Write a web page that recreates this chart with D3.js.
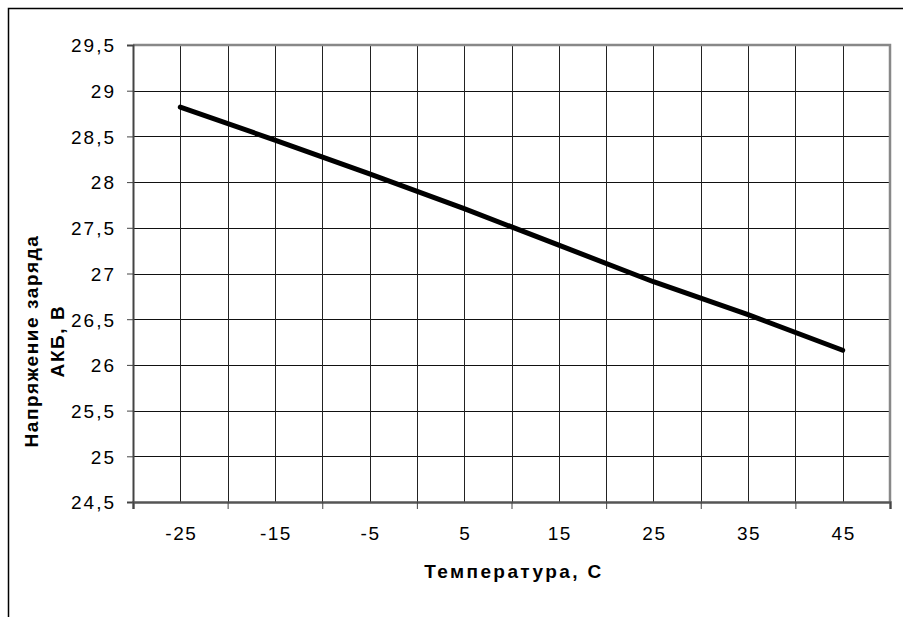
<!DOCTYPE html>
<html>
<head>
<meta charset="utf-8">
<script src="https://cdn.jsdelivr.net/npm/d3@7"></script>
<style>
  body { margin: 0; background: #fff; }
  text { font-family: "Liberation Sans", Arial, sans-serif; fill: #000; }
</style>
</head>
<body>
<div id="chart"></div>
<script>
"use strict";

// data
var temps = [-25, -15, -5, 5, 15, 25, 35, 45];
var voltage = [28.82, 28.46, 28.09, 27.71, 27.31, 26.91, 26.55, 26.16];
var yTicks = [24.5, 25, 25.5, 26, 26.5, 27, 27.5, 28, 28.5, 29, 29.5];
var xLabels = [-25, -15, -5, 5, 15, 25, 35, 45];
var xTickMarks = [-30, -20, -10, 0, 10, 20, 30, 40, 50];
var xGrid = d3.range(-30, 51, 5);

var w = 903;
var h = 617;
var plot = { left: 133, right: 890, top: 45, bottom: 502 };

var svg = d3.select("#chart")
    .append("svg")
    .attr("width", w)
    .attr("height", h);

//outer chart frame (cut off at right and bottom)
svg.append("rect")
    .attr("x", 8.5)
    .attr("y", 8.5)
    .attr("width", 1000)
    .attr("height", 1000)
    .attr("fill", "none")
    .attr("stroke", "#000")
    .attr("stroke-width", 1.5);

var x = d3.scaleLinear()
    .domain([-30, 50])
    .range([plot.left, plot.right]);

var y = d3.scaleLinear()
    .domain([24.5, 29.5])
    .range([plot.bottom, plot.top]);

var fmt = function (d) { return String(d).replace(".", ","); };

//grid lines
svg.append("g")
    .selectAll("line")
    .data(yTicks)
    .enter()
    .append("line")
    .attr("x1", plot.left)
    .attr("x2", plot.right)
    .attr("y1", function (d) { return Math.round(y(d)) + 0.5; })
    .attr("y2", function (d) { return Math.round(y(d)) + 0.5; })
    .attr("stroke", "#111")
    .attr("stroke-width", 1);

svg.append("g")
    .selectAll("line")
    .data(xGrid)
    .enter()
    .append("line")
    .attr("x1", function (d) { return Math.round(x(d)) + 0.5; })
    .attr("x2", function (d) { return Math.round(x(d)) + 0.5; })
    .attr("y1", plot.top)
    .attr("y2", plot.bottom)
    .attr("stroke", "#222")
    .attr("stroke-width", 1);

//plot border top and right (gray)
svg.append("path")
    .attr("d", "M" + plot.left + "," + plot.top + "H" + plot.right + "V" + plot.bottom)
    .attr("fill", "none")
    .attr("stroke", "#888")
    .attr("stroke-width", 2.5);

//y axis
var yAxis = d3.axisLeft(y)
    .tickValues(yTicks)
    .tickSize(6)
    .tickPadding(11)
    .tickFormat(fmt);

var gy = svg.append("g")
    .attr("transform", "translate(" + plot.left + ",0)")
    .call(yAxis);
gy.select(".domain").attr("stroke", "#444").attr("stroke-width", 2);
gy.selectAll(".tick line").attr("stroke", "#444");
gy.selectAll(".tick text")
    .style("font-size", "19px")
    .style("letter-spacing", "2px")
    .attr("dy", "0.36em");

//x axis: tick marks between categories, labels at categories
var xAxis = d3.axisBottom(x)
    .tickValues(xTickMarks)
    .tickSize(7)
    .tickFormat("");

var gx = svg.append("g")
    .attr("transform", "translate(0," + plot.bottom + ")")
    .call(xAxis);
gx.select(".domain").attr("stroke", "#555").attr("stroke-width", 2.5);
gx.selectAll(".tick line").attr("stroke", "#444");

svg.append("g")
    .selectAll("text")
    .data(xLabels)
    .enter()
    .append("text")
    .attr("x", function (d) { return x(d) + 1; })
    .attr("y", 540)
    .attr("text-anchor", "middle")
    .style("font-size", "19px")
    .style("letter-spacing", "1.5px")
    .text(function (d) { return d; });

//axis titles
svg.append("text")
    .attr("x", 514)
    .attr("y", 578)
    .attr("text-anchor", "middle")
    .style("font-size", "19px")
    .style("font-weight", "bold")
    .style("letter-spacing", "2.4px")
    .text("Температура, С");

var yTitle = svg.append("text")
    .attr("transform", "translate(0,341) rotate(-90)")
    .attr("text-anchor", "middle")
    .style("font-size", "19px")
    .style("font-weight", "bold")
    .style("letter-spacing", "1.6px");
yTitle.append("tspan").attr("x", 0).attr("y", 38).text("Напряжение заряда");
yTitle.append("tspan").attr("x", 0).attr("y", 64).text("АКБ, В");

//data line
var line = d3.line()
    .x(function (d, i) { return x(temps[i]); })
    .y(function (d) { return y(d); });

svg.append("path")
    .datum(voltage)
    .attr("d", line)
    .attr("fill", "none")
    .attr("stroke", "#000")
    .attr("stroke-width", 5)
    .attr("stroke-linejoin", "round")
    .attr("stroke-linecap", "round");
</script>
</body>
</html>
